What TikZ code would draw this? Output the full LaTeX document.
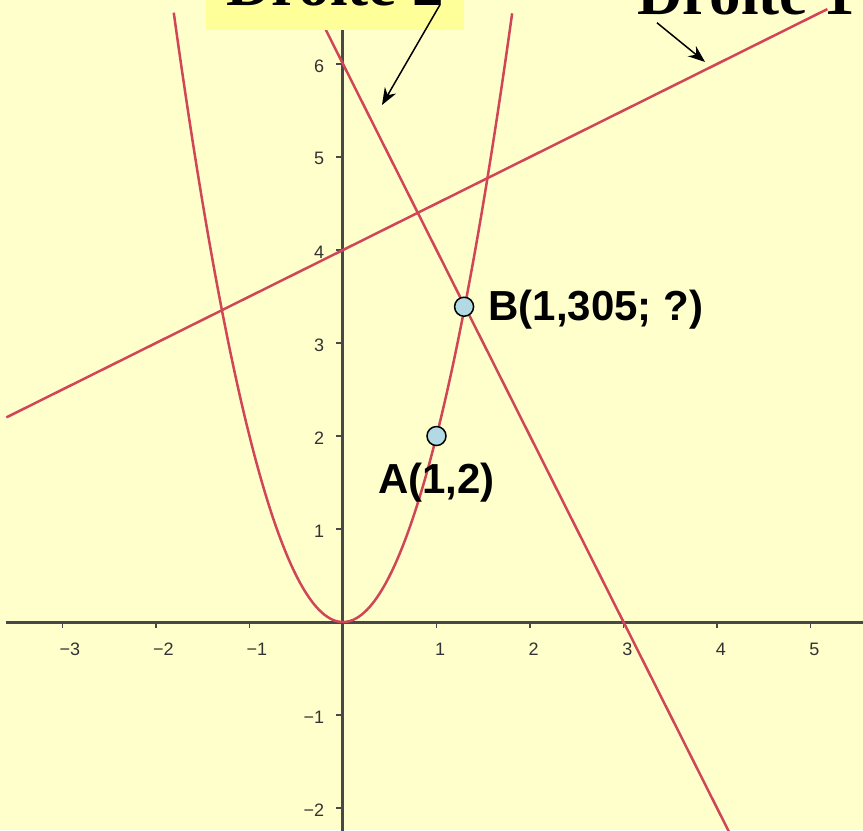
\documentclass[tikz,border=0pt]{standalone}
\usepackage{fontspec}
\setmainfont{Liberation Serif}
\setsansfont{Liberation Sans}
\usetikzlibrary{arrows.meta, positioning}
\definecolor{bgyellow}{RGB}{255,255,204}
\definecolor{boxyellow}{RGB}{255,255,153}
\definecolor{curvered}{RGB}{208,70,86}
\definecolor{axisgray}{RGB}{72,72,72}
\definecolor{pointblue}{RGB}{178,218,228}

\begin{document}
\begin{tikzpicture}[x=93.5pt, y=93pt,
  curve/.style={curvered, line width=2.5pt},
  ticklbl/.style={font=\fontsize{18}{18}\sffamily, text=black!80, inner sep=0pt},
  pointlbl/.style={font=\fontsize{42}{42}\sffamily\bfseries, inner sep=0pt},
  droitelbl/.style={font=\fontsize{63}{63}\rmfamily\bfseries},
  pointdot/.style={circle, draw=black, fill=pointblue, line width=1.5pt, minimum size=19pt, inner sep=0pt},
  pointer/.style={-{Stealth[length=17pt, width=13pt]}, line width=1.5pt}]
% Frame and background
\fill[bgyellow] (-3.668,-2.237) rectangle (5.561,6.688);
\useasboundingbox (-3.668,-2.237) rectangle (5.561,6.688);
\clip (-3.668,-2.237) rectangle (5.561,6.688);
% Axes
\draw[axisgray, line width=3pt] (-3.6,0) -- (5.7,0);
\draw[axisgray, line width=3pt] (0,-2.4) -- (0,6.8);
% x ticks and labels
\foreach \x/\lbl/\nm/\dx in {-3/−3/m3/0.08, -2/−2/m2/0.08, -1/−1/m1/0.08, 1/1/p1/0.04, 2/2/p2/0.04, 3/3/p3/0.04, 4/4/p4/0.04, 5/5/p5/0.04} {
  \draw[axisgray, line width=1.8pt] (\x,0) -- (\x,-0.065);
  \node[ticklbl, anchor=north] (xl\nm) at (\x+\dx,-0.225) {\lbl};
}
% y ticks and labels
\foreach \y/\lbl/\nm in {-2/−2/m2, -1/−1/m1, 1/1/p1, 2/2/p2, 3/3/p3, 4/4/p4, 5/5/p5, 6/6/p6} {
  \draw[axisgray, line width=1.8pt] (0,\y) -- (-0.08,\y);
  \node[ticklbl, anchor=east] (yl\nm) at (-0.2,\y-0.02) {\lbl};
}
% Parabola y = 2x^2
\draw[curve] plot[domain=-1.81:1.81, samples=120, smooth] (\x,{2*\x*\x});
% Droite 1 and Droite 2
\draw[curve] plot[domain=-3.6:5.18, samples=2] (\x,{0.5*\x+4});
\draw[curve] plot[domain=-0.35:4.2, samples=2] (\x,{-2*\x+6});
% Points
\node[pointdot] (A) at (1,2) {};
\node[pointdot] (B) at (1.295,3.39) {};
\node[pointlbl, below=17pt of A] (Alabel) {A(1,2)};
\node[pointlbl, right=14pt of B, yshift=-3pt] (Blabel) {B(1,305; ?)};
% Line labels
\node[droitelbl, fill=boxyellow, inner xsep=20pt, inner ysep=24pt, anchor=base west] (d2) at (-1.465,6.634) {Droite 2};
\node[droitelbl, inner sep=0pt, anchor=base west] (d1) at (3.144,6.527) {Droite 1};
\coordinate (d2tip) at (0.417,5.559);
\coordinate (d1tip) at (3.872,6.022);
\draw[pointer] ([shift={(-24pt,25pt)}]d2.south east) -- (d2tip);
\draw[pointer] ([shift={(20pt,-7pt)}]d1.south west) -- (d1tip);
\end{tikzpicture}
\end{document}
